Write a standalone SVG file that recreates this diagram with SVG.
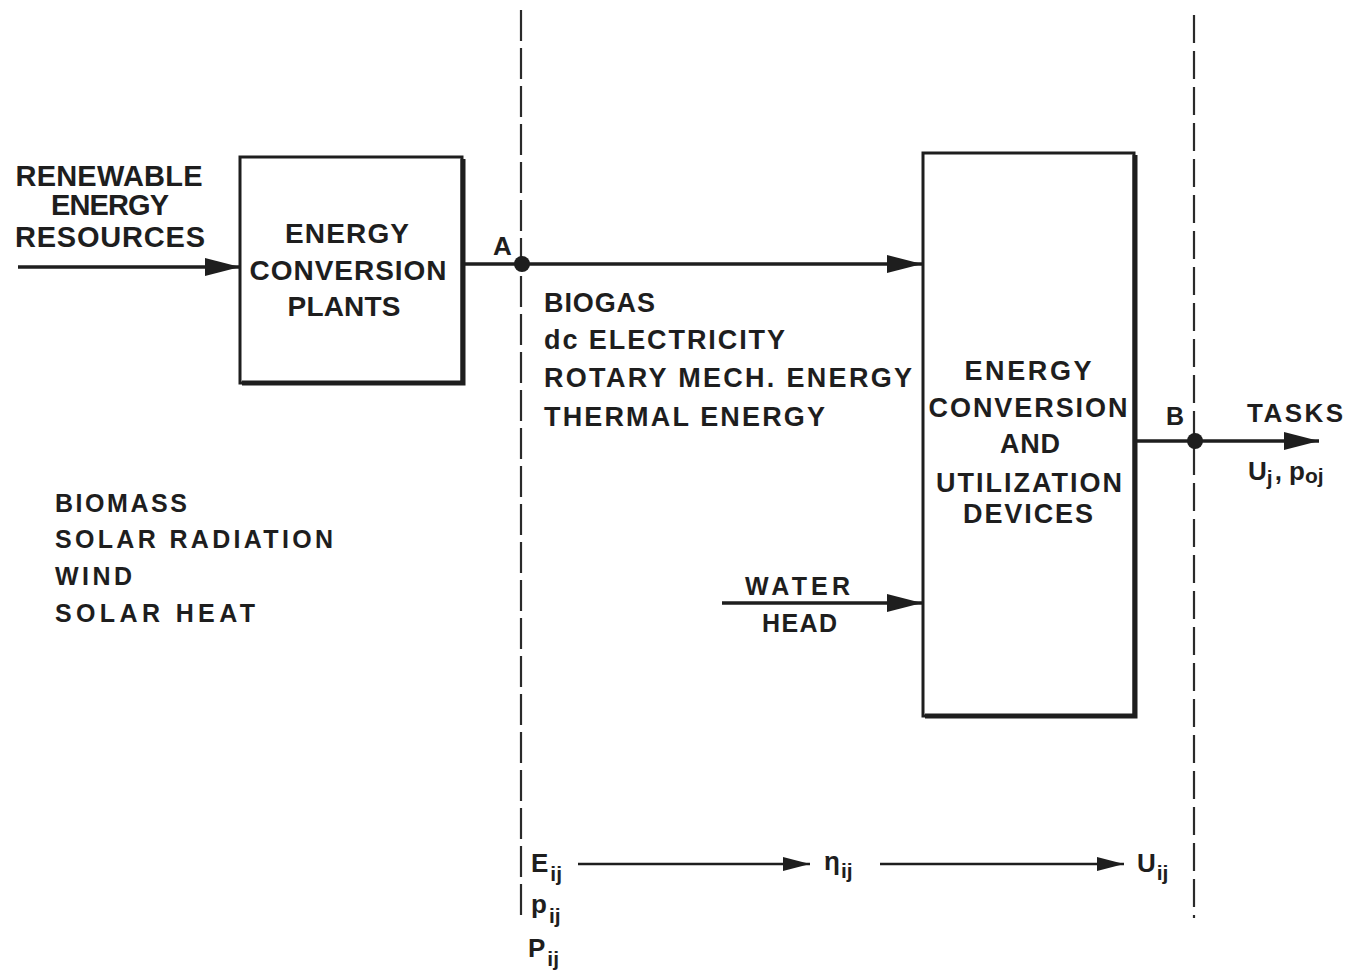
<svg xmlns="http://www.w3.org/2000/svg" width="1349" height="973" viewBox="0 0 1349 973">
<defs>
<style>
text{font-family:"Liberation Sans",Arial,sans-serif;font-weight:bold;fill:#1e1e1e}
.t31{font-size:29px}
.t28{font-size:28px}
.t27{font-size:27px}
.t25{font-size:25px}
.t26{font-size:26px}
.sub{font-size:21px}
.box{fill:#fff;stroke:#1e1e1e;stroke-width:3}
.shadow{fill:none;stroke:#1e1e1e;stroke-width:5}
.dash{fill:none;stroke:#2a2a2a;stroke-width:2.2}
.wire{fill:none;stroke:#1e1e1e;stroke-width:3.5}
.thin{fill:none;stroke:#1e1e1e;stroke-width:2.5}
.c{text-anchor:middle}
</style>
<marker id="ah" markerUnits="userSpaceOnUse" markerWidth="38" markerHeight="22" refX="35" refY="10" orient="auto">
<path d="M0,1 L35,10 L0,19 Z" fill="#1e1e1e"/>
</marker>
<marker id="ahs" markerUnits="userSpaceOnUse" markerWidth="30" markerHeight="18" refX="27" refY="8" orient="auto">
<path d="M0,1 L27,8 L0,15 Z" fill="#1e1e1e"/>
</marker>
</defs>
<rect width="1349" height="973" fill="#fff"/>

<g id="boundaries">
<line class="dash" x1="521" y1="10" x2="521" y2="920" stroke-dasharray="31 7"/>
<line class="dash" x1="1194" y1="15" x2="1194" y2="918" stroke-dasharray="28 8"/>
</g>

<g id="connectors">
<line class="wire" x1="18" y1="267" x2="240" y2="267" marker-end="url(#ah)"/>
<line class="wire" x1="463" y1="264" x2="922" y2="264" marker-end="url(#ah)"/>
<line class="wire" x1="722" y1="603" x2="922" y2="603" marker-end="url(#ah)"/>
<line class="wire" x1="1135" y1="441" x2="1319" y2="441" marker-end="url(#ah)"/>
<line class="thin" x1="578" y1="864" x2="810" y2="864" marker-end="url(#ahs)"/>
<line class="thin" x1="880" y1="864" x2="1124" y2="864" marker-end="url(#ahs)"/>
<circle cx="522" cy="264" r="8" fill="#1e1e1e"/>
<circle cx="1195" cy="441" r="8" fill="#1e1e1e"/>
</g>

<g id="input-label">
<text class="t31 c" x="109" y="186" textLength="187" lengthAdjust="spacing">RENEWABLE</text>
<text class="t31 c" x="110" y="215" textLength="118" lengthAdjust="spacing">ENERGY</text>
<text class="t31 c" x="110" y="247" textLength="190" lengthAdjust="spacing">RESOURCES</text>
</g>

<g id="plants">
<rect class="box" x="240" y="157" width="222" height="226"/>
<path class="shadow" d="M242,383 H463 V159"/>
<text class="t28 c" x="347" y="243" textLength="124" lengthAdjust="spacing">ENERGY</text>
<text class="t28 c" x="348" y="280" textLength="197" lengthAdjust="spacing">CONVERSION</text>
<text class="t28 c" x="344" y="316" textLength="113" lengthAdjust="spacing">PLANTS</text>
</g>

<g id="point-a">
<text class="t26" x="493" y="255">A</text>
</g>

<g id="energy-forms">
<text class="t27" x="544" y="312" textLength="111" lengthAdjust="spacing">BIOGAS</text>
<text class="t27" x="544" y="349" textLength="241" lengthAdjust="spacing">dc ELECTRICITY</text>
<text class="t27" x="544" y="387" textLength="368" lengthAdjust="spacing">ROTARY MECH. ENERGY</text>
<text class="t27" x="544" y="426" textLength="281" lengthAdjust="spacing">THERMAL ENERGY</text>
</g>

<g id="devices">
<rect class="box" x="923" y="153" width="211" height="563"/>
<path class="shadow" d="M925,716 H1135 V155"/>
<text class="t27 c" x="1028" y="380" textLength="127" lengthAdjust="spacing">ENERGY</text>
<text class="t27 c" x="1028" y="417" textLength="199" lengthAdjust="spacing">CONVERSION</text>
<text class="t27 c" x="1030" y="453" textLength="60" lengthAdjust="spacing">AND</text>
<text class="t27 c" x="1029" y="492" textLength="186" lengthAdjust="spacing">UTILIZATION</text>
<text class="t27 c" x="1028" y="523" textLength="130" lengthAdjust="spacing">DEVICES</text>
</g>

<g id="resources-list">
<text class="t25" x="55" y="512" textLength="132" lengthAdjust="spacing">BIOMASS</text>
<text class="t25" x="55" y="548" textLength="278" lengthAdjust="spacing">SOLAR RADIATION</text>
<text class="t25" x="55" y="585" textLength="77" lengthAdjust="spacing">WIND</text>
<text class="t25" x="55" y="622" textLength="200" lengthAdjust="spacing">SOLAR HEAT</text>
</g>

<g id="water-head">
<text class="t25" x="745" y="595" textLength="105" lengthAdjust="spacing">WATER</text>
<text class="t25" x="762" y="632" textLength="75" lengthAdjust="spacing">HEAD</text>
</g>

<g id="point-b">
<text class="t25" x="1166" y="425">B</text>
</g>

<g id="tasks">
<text class="t26" x="1247" y="422" textLength="96" lengthAdjust="spacing">TASKS</text>
<text class="t26" x="1248" y="480">U<tspan class="sub" dy="5">j</tspan><tspan dy="-5" dx="2">, p</tspan><tspan class="sub" dy="3">oj</tspan></text>
</g>

<g id="variables">
<text class="t26" x="531" y="872">E<tspan class="sub" dx="2" dy="9">ij</tspan></text>
<text class="t26" x="531" y="913">p<tspan class="sub" dx="2" dy="10">ij</tspan></text>
<text class="t26" x="528" y="957">P<tspan class="sub" dx="2" dy="9">ij</tspan></text>
<text class="t26" x="824" y="870">η<tspan class="sub" dx="1" dy="8">ij</tspan></text>
<text class="t26" x="1137" y="872">U<tspan class="sub" dx="1" dy="8">ij</tspan></text>
</g>
</svg>
